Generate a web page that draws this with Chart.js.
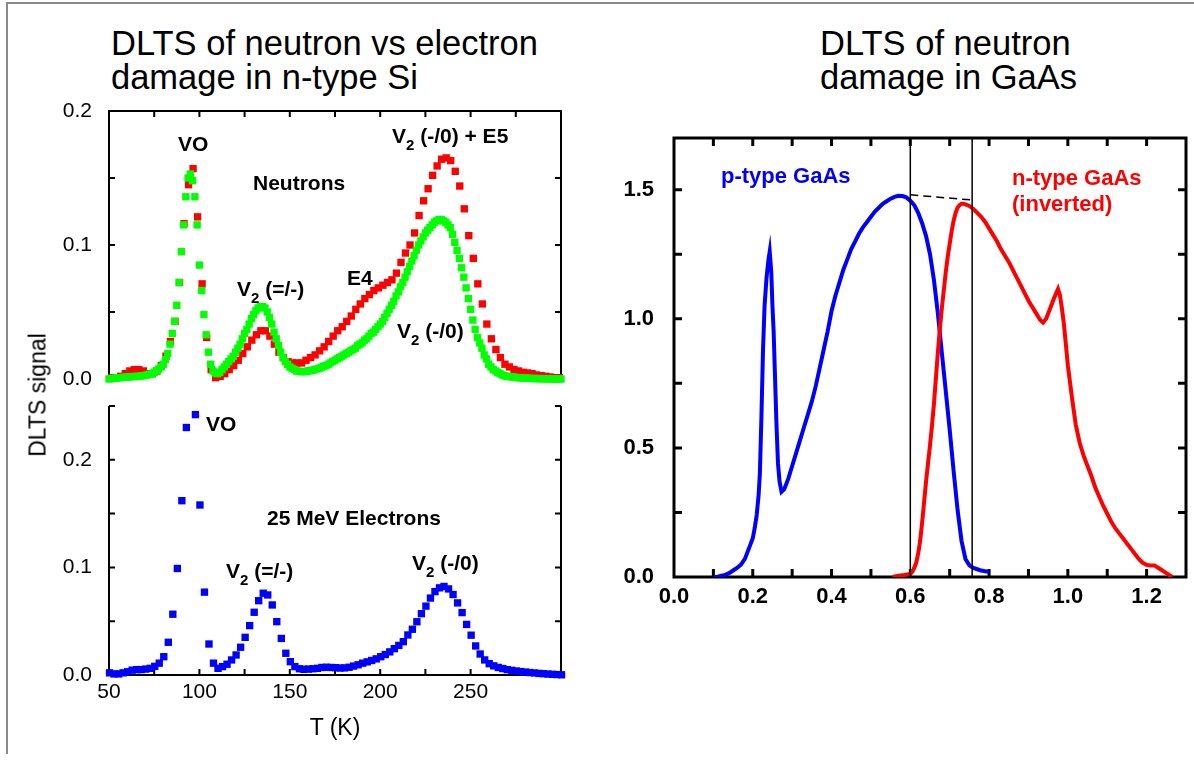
<!DOCTYPE html>
<html>
<head>
<meta charset="utf-8">
<script src="https://cdn.jsdelivr.net/npm/chart.js@4.4.1/dist/chart.umd.min.js"></script>
<style>
  body { margin: 0; background: #fff; font-family: 'Liberation Sans', Arial, sans-serif; }
  #page { position: relative; width: 1194px; height: 761px; overflow: hidden; background: #fff; }
  #border { position: absolute; left: 6px; top: 2px; width: 1200px; height: 750px;
            border-left: 2px solid #8a8a8a; border-top: 2px solid #8a8a8a; }
  canvas { position: absolute; }
  .title { position: absolute; font-size: 34.5px; line-height: 34px; color: #000; white-space: nowrap; }
  .note { position: absolute; font-weight: bold; font-size: 21px; line-height: 21px; color: #000;
          white-space: nowrap; transform: translateY(-50%); }
  .note sub { font-size: 15px; vertical-align: -7px; line-height: 0; }
  .axis-title { position: absolute; font-size: 23px; line-height: 23px; color: #000; white-space: nowrap; }
</style>
</head>
<body>
<div id="page">
  <div id="border"></div>

  <div class="title" style="left:111px; top:26px;">DLTS of neutron vs electron<br>damage in n-type Si</div>
  <div class="title" style="left:820px; top:26px;">DLTS of neutron<br>damage in GaAs</div>

  <canvas id="neutronChart" width="600" height="340" style="left:0; top:70px;"></canvas>
  <canvas id="electronChart" width="600" height="391" style="left:0; top:370px;"></canvas>
  <canvas id="gaasChart" width="594" height="540" style="left:600px; top:100px;"></canvas>

  <div class="axis-title" style="left:38px; top:395px; transform: translate(-50%, -50%) rotate(-90deg);">DLTS signal</div>
  <div class="axis-title" style="left:335px; top:727px; transform: translate(-50%, -50%);">T (K)</div>

  <div class="note" style="left:178px; top:143px;">VO</div>
  <div class="note" style="left:253px; top:182px;">Neutrons</div>
  <div class="note" style="left:392px; top:135px;">V<sub>2</sub> (-/0) + E5</div>
  <div class="note" style="left:347px; top:277px;">E4</div>
  <div class="note" style="left:237px; top:288px;">V<sub>2</sub> (=/-)</div>
  <div class="note" style="left:397px; top:330px;">V<sub>2</sub> (-/0)</div>

  <div class="note" style="left:206px; top:423px;">VO</div>
  <div class="note" style="left:267px; top:517px;">25 MeV Electrons</div>
  <div class="note" style="left:226px; top:570px;">V<sub>2</sub> (=/-)</div>
  <div class="note" style="left:412px; top:562px;">V<sub>2</sub> (-/0)</div>

  <div class="note" style="left:721px; top:175px; font-size:22px; color:#0000ff;">p-type GaAs</div>
  <div class="note" style="left:1012px; top:177px; font-size:22px; color:#ff0000;">n-type GaAs</div>
  <div class="note" style="left:1012px; top:203px; font-size:22px; color:#ff0000;">(inverted)</div>
</div>

<script>
// temperature sampling of each Si scan: first T, step (K), number of points
const greenScan = { start: 50, step: 1.25, count: 201 };
const redScan = { start: 51.5, step: 2.5, count: 100 };
const blueScan = { start: 50.3, step: 2.5, count: 101 };

// neutron damage, 2nd spectrum (green), one value per 1.25 K from 50 K
const greenSignal = [
  0.000, 0.0003, 0.0005, 0.0007, 0.001, 0.001, 0.0012, 0.0013, 0.0015, 0.0016,
  0.0017, 0.0018, 0.002, 0.002, 0.0022, 0.0024, 0.0027, 0.003, 0.0035, 0.004,
  0.005, 0.006, 0.0075, 0.009, 0.011, 0.0145, 0.019, 0.026, 0.034, 0.043,
  0.055, 0.072, 0.095, 0.115, 0.136, 0.150, 0.153, 0.148, 0.136, 0.115,
  0.085, 0.066, 0.048, 0.033, 0.020, 0.011, 0.006, 0.0045, 0.004, 0.005,
  0.007, 0.009, 0.011, 0.013, 0.015, 0.017, 0.020, 0.023, 0.026, 0.030,
  0.034, 0.037, 0.041, 0.045, 0.048, 0.051, 0.053, 0.054, 0.054, 0.053,
  0.050, 0.046, 0.041, 0.035, 0.030, 0.025, 0.020, 0.016, 0.013, 0.011,
  0.009, 0.008, 0.007, 0.006, 0.0058, 0.0055, 0.0055, 0.0056, 0.006, 0.0062,
  0.0065, 0.007, 0.0075, 0.008, 0.0088, 0.0095, 0.010, 0.011, 0.012, 0.013,
  0.014, 0.015, 0.016, 0.017, 0.018, 0.019, 0.020, 0.021, 0.022, 0.023,
  0.025, 0.026, 0.027, 0.029, 0.030, 0.032, 0.034, 0.035, 0.037, 0.039,
  0.041, 0.043, 0.046, 0.049, 0.052, 0.055, 0.058, 0.062, 0.065, 0.069,
  0.072, 0.076, 0.080, 0.084, 0.088, 0.092, 0.096, 0.100, 0.103, 0.106,
  0.109, 0.111, 0.113, 0.115, 0.117, 0.118, 0.119, 0.119, 0.118, 0.117,
  0.115, 0.113, 0.108, 0.102, 0.096, 0.090, 0.083, 0.076, 0.068, 0.060,
  0.052, 0.044, 0.037, 0.031, 0.027, 0.023, 0.018, 0.015, 0.011, 0.009,
  0.007, 0.006, 0.005, 0.004, 0.003, 0.0025, 0.002, 0.0018, 0.0016, 0.0014,
  0.0012, 0.001, 0.0009, 0.0008, 0.0007, 0.0006, 0.0005, 0.0004, 0.0004, 0.0003,
  0.0003, 0.0002, 0.0002, 0.0002, 0.0001, 0.0001, 0.0001, 0, 0, 0,
  0
];

// neutron damage (red), one value per 2.5 K from 51.5 K
const redSignal = [
  0.001, 0.001, 0.002, 0.004, 0.006, 0.007, 0.007, 0.006, 0.004, 0.004,
  0.006, 0.010, 0.017, 0.028, 0.043, 0.072, 0.116, 0.145, 0.157, 0.121,
  0.071, 0.031, 0.007, 0.001, 0.002, 0.004, 0.007, 0.010, 0.014, 0.019,
  0.024, 0.029, 0.033, 0.036, 0.036, 0.032, 0.026, 0.020, 0.016, 0.013,
  0.012, 0.012, 0.012, 0.014, 0.016, 0.018, 0.021, 0.024, 0.028, 0.032,
  0.036, 0.039, 0.043, 0.047, 0.052, 0.056, 0.060, 0.063, 0.066, 0.068,
  0.070, 0.072, 0.074, 0.079, 0.087, 0.094, 0.100, 0.109, 0.122, 0.133,
  0.142, 0.152, 0.159, 0.164, 0.165, 0.163, 0.155, 0.144, 0.127, 0.107,
  0.090, 0.071, 0.056, 0.041, 0.030, 0.022, 0.016, 0.011, 0.009, 0.007,
  0.006, 0.005, 0.0045, 0.004, 0.003, 0.0025, 0.002, 0.0015, 0.001, 0.001
];

// 25 MeV electron damage (blue), one value per 2.5 K from 50.3 K
const blueSignal = [
  0.002, 0.001, 0.001, 0.002, 0.003, 0.0045, 0.005, 0.005, 0.0055, 0.0062,
  0.008, 0.011, 0.017, 0.0304, 0.0565, 0.099, 0.162, 0.230, 0.267, 0.242,
  0.158, 0.077, 0.0288, 0.011, 0.0062, 0.0078, 0.010, 0.014, 0.0186, 0.0258,
  0.035, 0.0459, 0.0583, 0.0691, 0.076, 0.0744, 0.0651, 0.0496, 0.034, 0.0202,
  0.0124, 0.0078, 0.0058, 0.0053, 0.0055, 0.0058, 0.0062, 0.007, 0.0072, 0.007,
  0.0068, 0.0065, 0.0066, 0.0072, 0.0083, 0.0095, 0.011, 0.0122, 0.0135, 0.015,
  0.017, 0.019, 0.0215, 0.0245, 0.0275, 0.031, 0.0372, 0.0425, 0.0495, 0.057,
  0.064, 0.0715, 0.0775, 0.081, 0.0823, 0.080, 0.0748, 0.067, 0.058, 0.047,
  0.037, 0.027, 0.0195, 0.014, 0.0105, 0.0085, 0.007, 0.006, 0.005, 0.0043,
  0.0037, 0.0032, 0.0027, 0.0023, 0.0019, 0.0015, 0.0012, 0.0009, 0.0006, 0.0004,
  0.0002
];

// GaAs spectra (right panel)
const pTypeX = [
  0.100, 0.110, 0.120, 0.130, 0.140, 0.150, 0.160, 0.170, 0.180, 0.190,
  0.200, 0.205, 0.210, 0.215, 0.218, 0.222, 0.226, 0.230, 0.235, 0.240,
  0.243, 0.247, 0.250, 0.253, 0.256, 0.260, 0.264, 0.268, 0.273, 0.280,
  0.290, 0.300, 0.310, 0.320, 0.330, 0.340, 0.350, 0.360, 0.370, 0.380,
  0.390, 0.400, 0.410, 0.420, 0.430, 0.440, 0.450, 0.460, 0.470, 0.480,
  0.490, 0.500, 0.510, 0.520, 0.530, 0.540, 0.550, 0.560, 0.570, 0.580,
  0.590, 0.600, 0.610, 0.620, 0.630, 0.640, 0.650, 0.660, 0.670, 0.680,
  0.690, 0.700, 0.710, 0.720, 0.730, 0.740, 0.750, 0.760, 0.770, 0.780,
  0.790, 0.800
];
const pTypeY = [
  0.00, 0.00, 0.005, 0.008, 0.015, 0.025, 0.035, 0.048, 0.07, 0.11,
  0.15, 0.19, 0.24, 0.32, 0.40, 0.62, 0.88, 1.05, 1.16, 1.23,
  1.26, 1.18, 1.05, 0.95, 0.80, 0.60, 0.44, 0.37, 0.33, 0.34,
  0.38, 0.43, 0.48, 0.53, 0.58, 0.63, 0.68, 0.74, 0.81, 0.88,
  0.95, 1.03, 1.09, 1.14, 1.19, 1.23, 1.27, 1.30, 1.33, 1.355,
  1.375, 1.395, 1.415, 1.43, 1.445, 1.455, 1.465, 1.472, 1.476, 1.475,
  1.47, 1.457, 1.44, 1.41, 1.37, 1.32, 1.25, 1.15, 1.02, 0.87,
  0.72, 0.57, 0.41, 0.26, 0.14, 0.07, 0.045, 0.035, 0.03, 0.025,
  0.022, 0.02
];

const nTypeX = [
  0.555, 0.570, 0.585, 0.600, 0.605, 0.610, 0.615, 0.620, 0.625, 0.630,
  0.635, 0.640, 0.645, 0.650, 0.655, 0.660, 0.665, 0.670, 0.675, 0.680,
  0.685, 0.690, 0.695, 0.700, 0.705, 0.710, 0.715, 0.720, 0.725, 0.730,
  0.735, 0.740, 0.750, 0.760, 0.770, 0.780, 0.790, 0.800, 0.810, 0.820,
  0.830, 0.840, 0.850, 0.860, 0.870, 0.880, 0.890, 0.900, 0.910, 0.920,
  0.930, 0.937, 0.945, 0.955, 0.965, 0.975, 0.980, 0.985, 0.990, 0.995,
  1.000, 1.005, 1.010, 1.020, 1.030, 1.040, 1.050, 1.060, 1.070, 1.080,
  1.090, 1.100, 1.110, 1.120, 1.130, 1.140, 1.150, 1.160, 1.170, 1.180,
  1.190, 1.200, 1.210, 1.220, 1.230, 1.240, 1.250, 1.260, 1.265
];
const nTypeY = [
  0.00, 0.005, 0.008, 0.012, 0.02, 0.035, 0.055, 0.09, 0.14, 0.21,
  0.29, 0.37, 0.44, 0.51, 0.585, 0.67, 0.77, 0.87, 0.96, 1.04,
  1.11, 1.18, 1.24, 1.29, 1.34, 1.38, 1.41, 1.43, 1.44, 1.445,
  1.445, 1.443, 1.437, 1.425, 1.41, 1.395, 1.375, 1.35, 1.325, 1.30,
  1.27, 1.245, 1.22, 1.19, 1.16, 1.13, 1.10, 1.07, 1.045, 1.02,
  0.995, 0.985, 1.00, 1.04, 1.08, 1.115, 1.09, 1.04, 0.98, 0.90,
  0.82, 0.76, 0.70, 0.59, 0.52, 0.47, 0.43, 0.39, 0.345, 0.31,
  0.275, 0.245, 0.215, 0.19, 0.17, 0.15, 0.13, 0.11, 0.09, 0.07,
  0.055, 0.047, 0.045, 0.045, 0.035, 0.025, 0.015, 0.005, 0.0
];

// guide lines in the GaAs panel
const markerLineX = [0.6, 0.757];
const tieLineX = [0.6, 0.757];
const tieLineY = [1.48, 1.46];

// tick labels and tick marks
const siTempLabels = [50, 100, 150, 200, 250];
const siTempTicks = [50, 75, 100, 125, 150, 175, 200, 225, 250, 275, 300];
const neutronLabels = [0, 0.1, 0.2];
const neutronTicks = [0.05, 0.1, 0.15];
const electronLabels = [0, 0.1, 0.2];
const electronTicks = [0.05, 0.1, 0.15, 0.2, 0.25];
const gaasXLabels = [0, 0.2, 0.4, 0.6, 0.8, 1.0, 1.2];
const gaasXTicks = [0.1, 0.2, 0.3, 0.4, 0.5, 0.6, 0.7, 0.8, 0.9, 1.0, 1.1, 1.2];
const gaasYLabels = [0, 0.5, 1.0, 1.5];
const gaasYTicks = [0.25, 0.5, 0.75, 1.0, 1.25, 1.5];

Chart.defaults.font.family = "'Liberation Sans', Arial, sans-serif";
Chart.defaults.color = '#000';

function scanPoints(scan, values) {
    return values.map((v, i) => ({ x: scan.start + i * scan.step, y: v }));
}

function pairPoints(xs, ys) {
    return xs.map((x, i) => ({ x, y: ys[i] }));
}

// box lines and inward ticks drawn from the chart scales
const frameTicks = {
    id: 'frameTicks',
    beforeDatasetsDraw(chart, args, opts) {
        const { ctx, chartArea: a, scales } = chart;
        const half = opts.width / 2;
        ctx.save();
        ctx.strokeStyle = '#000';
        ctx.lineWidth = opts.width;
        ctx.beginPath();
        if (opts.sides.includes('top')) { ctx.moveTo(a.left - half, a.top); ctx.lineTo(a.right + half, a.top); }
        if (opts.sides.includes('bottom')) { ctx.moveTo(a.left - half, a.bottom); ctx.lineTo(a.right + half, a.bottom); }
        if (opts.sides.includes('left')) { ctx.moveTo(a.left, a.top); ctx.lineTo(a.left, a.bottom); }
        if (opts.sides.includes('right')) { ctx.moveTo(a.right, a.top); ctx.lineTo(a.right, a.bottom); }
        opts.xTicks.forEach(v => {
            let px = scales.x.getPixelForValue(v);
            if (opts.xSides.includes('top')) { ctx.moveTo(px, a.top); ctx.lineTo(px, a.top + opts.len); }
            if (opts.xSides.includes('bottom')) { ctx.moveTo(px, a.bottom); ctx.lineTo(px, a.bottom - opts.len); }
        });
        opts.yTicks.forEach(v => {
            let py = scales.y.getPixelForValue(v);
            if (opts.ySides.includes('left')) { ctx.moveTo(a.left, py); ctx.lineTo(a.left + opts.len, py); }
            if (opts.ySides.includes('right')) { ctx.moveTo(a.right, py); ctx.lineTo(a.right - opts.len, py); }
        });
        ctx.stroke();
        ctx.restore();
    }
};

const markSize = 5.2;
const siTickFont = { size: 21 };

function squareSeries(label, points, color) {
    return {
        label,
        data: points,
        backgroundColor: color,
        borderColor: color,
        pointStyle: 'rect',
        pointRadius: markSize,
        pointHoverRadius: markSize,
        pointBorderWidth: 0,
        clip: false
    };
}

function neutronChart() {
    let canvas = document.getElementById('neutronChart').getContext('2d');
    return new Chart(canvas, {
        type: 'scatter',
        data: {
            datasets: [
                squareSeries('Neutrons (2)', scanPoints(greenScan, greenSignal), '#00ff00'),
                squareSeries('Neutrons', scanPoints(redScan, redSignal), '#ff0000')
            ]
        },
        options: {
            responsive: false,
            animation: false,
            events: [],
            layout: { padding: { left: 0, right: 39, top: 41, bottom: 31 } },
            plugins: {
                legend: { display: false },
                tooltip: { enabled: false },
                frameTicks: { width: 2, len: 6, sides: ['top', 'left', 'right'],
                    xTicks: siTempTicks, xSides: ['top'],
                    yTicks: neutronTicks, ySides: ['left', 'right'] }
            },
            scales: {
                x: { type: 'linear', min: 50, max: 300, display: false },
                y: {
                    min: 0, max: 0.2,
                    grid: { display: false }, border: { display: false },
                    afterBuildTicks: s => { s.ticks = neutronLabels.map(v => ({ value: v })); },
                    afterFit: s => { s.width = 109; },
                    ticks: { font: siTickFont, padding: 9, callback: v => v.toFixed(1) }
                }
            }
        },
        plugins: [frameTicks]
    });
}

function electronChart() {
    let canvas = document.getElementById('electronChart').getContext('2d');
    return new Chart(canvas, {
        type: 'scatter',
        data: {
            datasets: [
                squareSeries('25 MeV Electrons', scanPoints(blueScan, blueSignal), '#0000ff')
            ]
        },
        options: {
            responsive: false,
            animation: false,
            events: [],
            layout: { padding: { left: 0, right: 39, top: 36, bottom: 0 } },
            plugins: {
                legend: { display: false },
                tooltip: { enabled: false },
                frameTicks: { width: 2, len: 6, sides: ['bottom', 'left', 'right'],
                    xTicks: siTempTicks, xSides: ['bottom'],
                    yTicks: electronTicks, ySides: ['left', 'right'] }
            },
            scales: {
                x: {
                    type: 'linear', min: 50, max: 300,
                    grid: { display: false, drawTicks: false }, border: { display: false },
                    afterBuildTicks: s => { s.ticks = siTempLabels.map(v => ({ value: v })); },
                    afterFit: s => { s.height = 86; },
                    ticks: { font: siTickFont, padding: 5, maxRotation: 0, callback: v => String(v) }
                },
                y: {
                    min: 0, max: 0.25,
                    grid: { display: false }, border: { display: false },
                    afterBuildTicks: s => { s.ticks = electronLabels.map(v => ({ value: v })); },
                    afterFit: s => { s.width = 109; },
                    ticks: { font: siTickFont, padding: 9, callback: v => v.toFixed(1) }
                }
            }
        },
        plugins: [frameTicks]
    });
}

function gaasChart() {
    let canvas = document.getElementById('gaasChart').getContext('2d');
    let guide = { borderColor: '#000', borderWidth: 1.5, showLine: true, pointRadius: 0, fill: false };
    return new Chart(canvas, {
        type: 'scatter',
        data: {
            datasets: [
                Object.assign({ label: 'edge 1', data: [{ x: markerLineX[0], y: 0 }, { x: markerLineX[0], y: 1.7 }] }, guide),
                Object.assign({ label: 'edge 2', data: [{ x: markerLineX[1], y: 0 }, { x: markerLineX[1], y: 1.7 }] }, guide),
                Object.assign({ label: 'tie', data: pairPoints(tieLineX, tieLineY), borderDash: [8, 5] }, guide),
                {
                    label: 'n-type GaAs (inverted)',
                    data: pairPoints(nTypeX, nTypeY),
                    showLine: true, borderColor: '#ff0000', borderWidth: 4, pointRadius: 0, tension: 0
                },
                {
                    label: 'p-type GaAs',
                    data: pairPoints(pTypeX, pTypeY),
                    showLine: true, borderColor: '#0000ff', borderWidth: 4, pointRadius: 0, tension: 0
                }
            ]
        },
        options: {
            responsive: false,
            animation: false,
            events: [],
            layout: { padding: { left: 0, right: 8, top: 38, bottom: 0 } },
            plugins: {
                legend: { display: false },
                tooltip: { enabled: false },
                frameTicks: { width: 3, len: 8, sides: ['top', 'bottom', 'left', 'right'],
                    xTicks: gaasXTicks, xSides: ['top', 'bottom'],
                    yTicks: gaasYTicks, ySides: ['left', 'right'] }
            },
            scales: {
                x: {
                    type: 'linear', min: 0, max: 1.3,
                    grid: { display: false, drawTicks: false }, border: { display: false },
                    afterBuildTicks: s => { s.ticks = gaasXLabels.map(v => ({ value: v })); },
                    afterFit: s => { s.height = 63; },
                    ticks: { font: { size: 22, weight: 'bold' }, padding: 7, maxRotation: 0, callback: v => v.toFixed(1) }
                },
                y: {
                    min: 0, max: 1.7,
                    grid: { display: false }, border: { display: false },
                    afterBuildTicks: s => { s.ticks = gaasYLabels.map(v => ({ value: v })); },
                    afterFit: s => { s.width = 74; },
                    ticks: { font: { size: 22, weight: 'bold' }, padding: 12, callback: v => v.toFixed(1) }
                }
            }
        },
        plugins: [frameTicks]
    });
}

neutronChart();
electronChart();
gaasChart();
</script>
</body>
</html>
